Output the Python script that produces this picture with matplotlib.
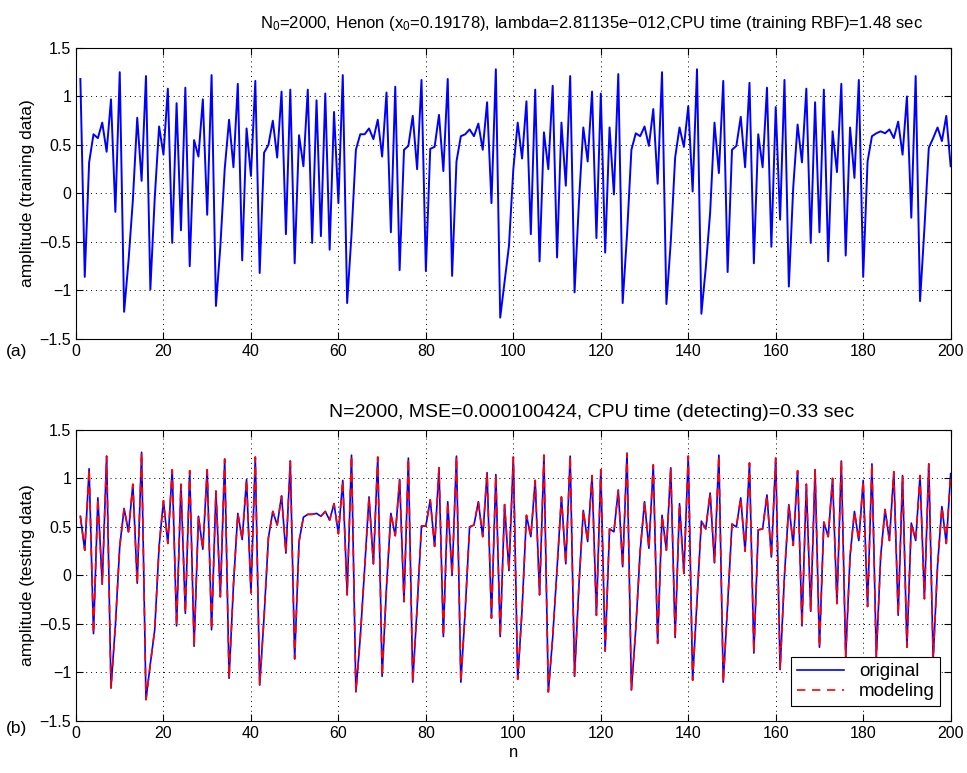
import matplotlib
matplotlib.use("Agg")
import matplotlib.pyplot as plt
import numpy as np

plt.rcParams["font.family"] = ["Liberation Sans", "DejaVu Sans"]
plt.rcParams["mathtext.default"] = "regular"
plt.rcParams["axes.unicode_minus"] = True

# training data, n = 1..200
train = [
    1.18, -0.86, 0.32, 0.61, 0.57, 0.73, 0.43, 0.97, -0.19, 1.25,
    -1.22, -0.70, -0.07, 0.78, 0.13, 1.21, -0.99, -0.05, 0.69, 0.40,
    1.08, -0.51, 0.93, -0.38, 1.09, -0.75, 0.55, 0.38, 0.97, -0.22,
    1.22, -1.16, -0.55, 0.25, 0.76, 0.27, 1.13, -0.69, 0.67, 0.18,
    1.16, -0.82, 0.42, 0.50, 0.75, 0.37, 1.05, -0.42, 1.07, -0.72,
    0.60, 0.28, 1.07, -0.51, 0.96, -0.44, 1.03, -0.58, 0.84, -0.10,
    1.22, -1.13, -0.42, 0.45, 0.61, 0.61, 0.67, 0.56, 0.76, 0.38,
    1.04, -0.40, 1.10, -0.79, 0.45, 0.49, 0.80, 0.25, 1.17, -0.80,
    0.46, 0.48, 0.81, 0.23, 1.18, -0.85, 0.33, 0.59, 0.61, 0.66,
    0.59, 0.72, 0.45, 0.94, -0.10, 1.28, -1.28, -0.91, -0.54, 0.25,
    0.73, 0.36, 0.95, -0.42, 1.07, -0.70, 0.63, 0.25, 1.11, -0.66,
    0.73, 0.08, 1.21, -1.02, -0.09, 0.68, 0.33, 1.05, -0.46, 1.03,
    -0.61, 0.68, -0.01, 1.23, -1.13, -0.42, 0.45, 0.62, 0.59, 0.69,
    0.49, 0.87, 0.10, 1.25, -1.14, -0.50, 0.37, 0.68, 0.48, 0.90,
    0.02, 1.28, -1.24, -0.77, -0.20, 0.73, 0.21, 1.16, -0.81, 0.45,
    0.49, 0.79, 0.27, 1.14, -0.72, 0.61, 0.27, 1.09, -0.55, 0.89,
    -0.27, 1.17, -0.96, 0.06, 0.71, 0.32, 1.08, -0.51, 0.94, -0.40,
    1.07, -0.70, 0.64, 0.22, 1.13, -0.64, 0.68, 0.16, 1.17, -0.86,
    0.33, 0.59, 0.62, 0.64, 0.62, 0.66, 0.57, 0.74, 0.40, 1.00,
    -0.25, 1.21, -1.11, -0.36, 0.47, 0.57, 0.68, 0.54, 0.80, 0.28,
]

# testing data, n = 1..200
original = [
    0.61, 0.26, 1.10, -0.60, 0.80, -0.09, 1.23, -1.16, -0.52, 0.30,
    0.69, 0.45, 0.94, -0.08, 1.27, -1.28, -0.91, -0.56, 0.30, 0.77,
    0.33, 1.09, -0.52, 0.94, -0.39, 1.08, -0.73, 0.61, 0.27, 1.09,
    -0.56, 0.87, -0.22, 1.20, -1.06, -0.10, 0.64, 0.37, 0.99, -0.18,
    1.22, -1.13, -0.43, 0.39, 0.66, 0.52, 0.82, 0.23, 1.18, -0.86,
    0.35, 0.60, 0.63, 0.63, 0.64, 0.61, 0.66, 0.57, 0.74, 0.43,
    0.98, -0.20, 1.24, -1.20, -0.64, 0.07, 0.81, 0.12, 1.22, -1.04,
    -0.12, 0.64, 0.41, 0.99, -0.27, 1.21, -1.10, -0.33, 0.51, 0.51,
    0.78, 0.30, 1.11, -0.63, 0.76, 0.00, 1.23, -1.10, -0.36, 0.50,
    0.52, 0.76, 0.40, 1.06, -0.44, 1.04, -0.63, 0.73, 0.05, 1.22,
    -1.07, -0.35, 0.62, 0.40, 0.98, -0.20, 1.24, -1.20, -0.64, 0.07,
    0.81, 0.12, 1.23, -1.04, -0.10, 0.67, 0.35, 1.03, -0.41, 1.09,
    -0.78, 0.48, 0.45, 0.88, 0.09, 1.26, -1.18, -0.55, 0.25, 0.76,
    0.28, 1.14, -0.70, 0.62, 0.26, 1.11, -0.64, 0.74, 0.02, 1.23,
    -1.08, -0.27, 0.56, 0.48, 0.85, 0.13, 1.24, -1.10, -0.30, 0.53,
    0.50, 0.80, 0.25, 1.16, -0.80, 0.47, 0.48, 0.83, 0.19, 1.21,
    -0.97, 0.00, 0.73, 0.31, 1.08, -0.52, 0.94, -0.37, 1.09, -0.74,
    0.55, 0.40, 1.00, -0.29, 1.18, -0.84, 0.20, 0.66, 0.36, 0.98,
    -0.32, 1.15, -0.84, 0.20, 0.68, 0.36, 1.07, -0.41, 1.03, -0.74,
    0.54, 0.36, 1.03, -0.24, 1.15, -0.87, 0.10, 0.71, 0.33, 1.05,
]
# RBF model output: MSE ~1e-4, indistinguishable from the original at this scale
modeling = list(original)

n_train = np.arange(1, len(train) + 1)
n_test = np.arange(1, len(original) + 1)

xticks = np.arange(0, 201, 20)
yticks = np.arange(-1.5, 1.51, 0.5)
ylabels = ["\u22121.5", "\u22121", "\u22120.5", "0", "0.5", "1", "1.5"]

fig = plt.figure(figsize=(9.67, 7.73), dpi=100)
ax1 = fig.add_axes([0.0786, 0.5615, 0.9045, 0.3765])
ax2 = fig.add_axes([0.0786, 0.0673, 0.9045, 0.3765])

for ax in (ax1, ax2):
    ax.set_xlim(0, 200)
    ax.set_ylim(-1.5, 1.5)
    ax.set_xticks(xticks)
    ax.set_yticks(yticks)
    ax.set_yticklabels(ylabels)
    ax.tick_params(direction="in", top=True, right=True, length=5,
                   labelsize=11.5, width=0.8)
    ax.grid(True, linestyle=(0, (1, 4)), color="black", linewidth=0.7)
    for s in ax.spines.values():
        s.set_linewidth(0.8)

ax1.plot(n_train, train, color="#0000ff", linewidth=1.4)
ax1.set_ylabel("amplitude (training data)", fontsize=12.5, labelpad=3)
ax1.text(0.59, 1.05,
         "N$_0$=2000, Henon (x$_0$=0.19178), lambda=2.81135e\u2212012,"
         "CPU time (training RBF)=1.48 sec",
         transform=ax1.transAxes, ha="center", va="bottom", fontsize=12)

ax2.plot(n_test, original, color="#0000ff", linewidth=1.2, label="original")
ax2.plot(n_test, modeling, color="#ff0000", linewidth=1.2,
         linestyle=(0, (5, 4)), label="modeling")
ax2.set_ylabel("amplitude (testing data)", fontsize=12.5, labelpad=3)
ax2.set_xlabel("n", fontsize=12, labelpad=3)
ax2.text(0.59, 1.03,
         "N=2000, MSE=0.000100424, CPU time (detecting)=0.33 sec",
         transform=ax2.transAxes, ha="center", va="bottom", fontsize=14)
leg = ax2.legend(loc="lower right", fontsize=13.5, fancybox=False,
                 framealpha=1, edgecolor="black", borderpad=0.3,
                 handlelength=2.5, labelspacing=0.15,
                 bbox_to_anchor=(0.999, 0.02))
leg.get_frame().set_linewidth(0.8)

fig.text(0.006, 0.545, "(a)", fontsize=12.5, ha="left", va="center")
fig.text(0.006, 0.058, "(b)", fontsize=12.5, ha="left", va="center")

fig.savefig("out.png", dpi=100)
